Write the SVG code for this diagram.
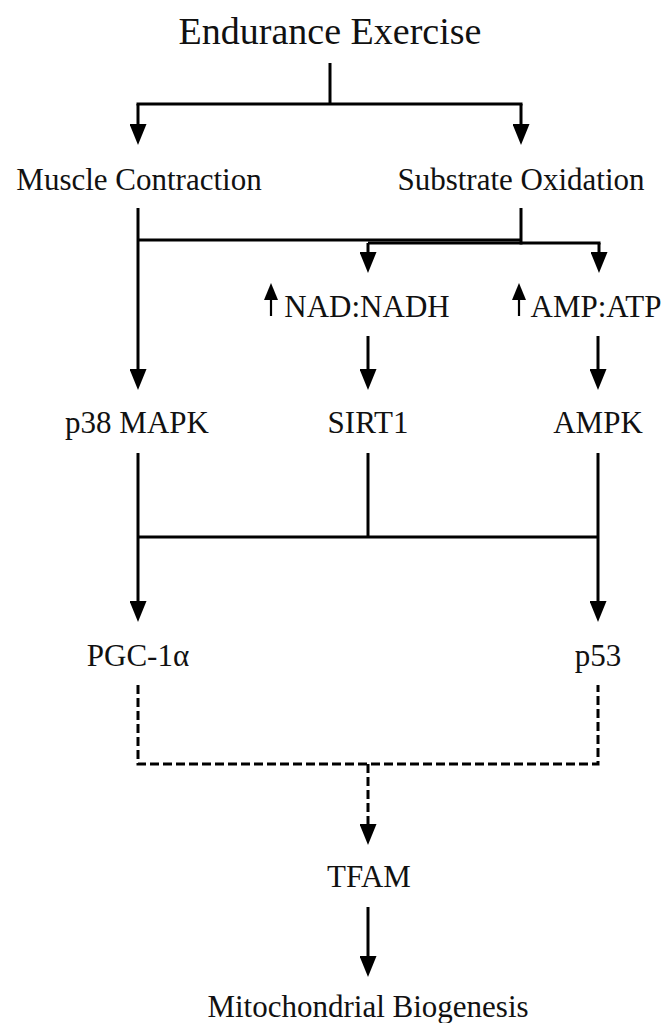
<svg xmlns="http://www.w3.org/2000/svg" width="665" height="1023" viewBox="0 0 665 1023">
<defs>
<style>
text{font-family:"Liberation Serif","Times New Roman",serif;fill:#111;text-anchor:middle;font-size:31px}
.title{font-size:38px}
.ln{stroke:#000;stroke-width:3;fill:none}
.dash{stroke:#000;stroke-width:3;fill:none;stroke-dasharray:9 4}
.up{stroke:#000;stroke-width:2.2;fill:none}
</style>
<marker id="ah" markerUnits="userSpaceOnUse" markerWidth="21" markerHeight="17" refX="9" refY="8.5" orient="auto" viewBox="0 0 21 17">
<path d="M0,0 L21,8.5 L0,17 Z" fill="#000"/>
</marker>
<marker id="sm" markerUnits="userSpaceOnUse" markerWidth="17" markerHeight="14" refX="5" refY="7" orient="auto" viewBox="0 0 17 14">
<path d="M0,0 L17,7 L0,14 Z" fill="#000"/>
</marker>
</defs>
<rect width="665" height="1023" fill="#fff"/>
<g id="connectors">
<line class="ln" x1="330" y1="63" x2="330" y2="104"/>
<line class="ln" x1="136.5" y1="104" x2="522.5" y2="104"/>
<line class="ln" x1="138" y1="104" x2="138" y2="133" marker-end="url(#ah)"/>
<line class="ln" x1="521" y1="104" x2="521" y2="133" marker-end="url(#ah)"/>
<line class="ln" x1="138" y1="208" x2="138" y2="378" marker-end="url(#ah)"/>
<line class="ln" x1="521" y1="208" x2="521" y2="244.5"/>
<line class="ln" x1="138" y1="240" x2="521" y2="240"/>
<line class="ln" x1="368" y1="243" x2="600.5" y2="243"/>
<line class="ln" x1="368" y1="243" x2="368" y2="261" marker-end="url(#ah)"/>
<line class="ln" x1="599" y1="243" x2="599" y2="261" marker-end="url(#ah)"/>
<line class="ln" x1="368" y1="336" x2="368" y2="378" marker-end="url(#ah)"/>
<line class="ln" x1="598" y1="336" x2="598" y2="378" marker-end="url(#ah)"/>
<line class="ln" x1="138" y1="453" x2="138" y2="610" marker-end="url(#ah)"/>
<line class="ln" x1="368" y1="453" x2="368" y2="537"/>
<line class="ln" x1="598" y1="453" x2="598" y2="610" marker-end="url(#ah)"/>
<line class="ln" x1="138" y1="537" x2="598" y2="537"/>
<path class="dash" d="M138,685 V764 H598 V685"/>
<line class="dash" x1="368" y1="764" x2="368" y2="833" marker-end="url(#ah)"/>
<line class="ln" x1="368" y1="907" x2="368" y2="965" marker-end="url(#ah)"/>
</g>
<g id="n-endurance"><text class="title" x="330" y="44">Endurance Exercise</text></g>
<g id="n-muscle"><text x="139" y="190">Muscle Contraction</text></g>
<g id="n-substrate"><text x="521" y="190">Substrate Oxidation</text></g>
<g id="n-nad">
<line class="up" x1="271" y1="316" x2="271" y2="295" marker-end="url(#sm)"/>
<text x="367" y="317">NAD:NADH</text>
</g>
<g id="n-amp">
<line class="up" x1="519" y1="316" x2="519" y2="295" marker-end="url(#sm)"/>
<text x="596" y="317">AMP:ATP</text>
</g>
<g id="n-p38"><text x="137" y="433">p38 MAPK</text></g>
<g id="n-sirt1"><text x="368" y="433">SIRT1</text></g>
<g id="n-ampk"><text x="598" y="433">AMPK</text></g>
<g id="n-pgc"><text x="138" y="666">PGC-1α</text></g>
<g id="n-p53"><text x="598" y="666">p53</text></g>
<g id="n-tfam"><text x="369" y="887">TFAM</text></g>
<g id="n-mito"><text x="368" y="1017">Mitochondrial Biogenesis</text></g>
</svg>
